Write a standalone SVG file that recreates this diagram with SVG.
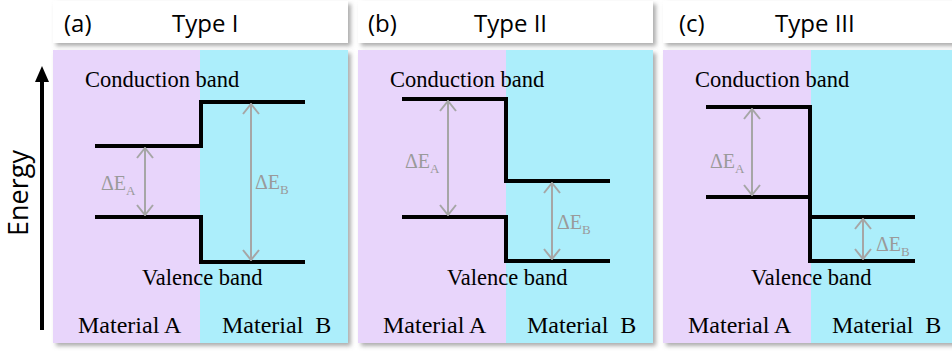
<svg xmlns="http://www.w3.org/2000/svg" width="952" height="352" viewBox="0 0 952 352">
  <style>
    .hdr { fill: #ffffff; }
    .matA { fill: #E8D5FB; }
    .matB { fill: #ACEEFB; }
    .title { font-family: "Open Sans", "Liberation Sans", sans-serif; font-size: 24px; fill: #000; }
    .lbl { font-family: "Liberation Serif", "Times New Roman", Tinos, "DejaVu Serif", serif; font-size: 22.5px; fill: #000; }
    .mat { font-family: "Liberation Serif", "Times New Roman", Tinos, "DejaVu Serif", serif; font-size: 24px; fill: #000; }
    .de { font-family: "Liberation Serif", "Times New Roman", Tinos, "DejaVu Serif", serif; font-size: 20px; fill: #9a9a9a; }
    .sub { font-size: 13px; }
    .band { fill: none; stroke: #000; stroke-width: 4; stroke-linejoin: miter; stroke-linecap: butt; }
    .gap { fill: none; stroke: #a6a6a6; stroke-width: 2; marker-start: url(#chev); marker-end: url(#chev); }
  </style>
  <defs>
    <filter id="sh" x="-5%" y="-5%" width="115%" height="120%">
      <feDropShadow dx="3" dy="3" stdDeviation="2" flood-color="#777" flood-opacity="0.6"/>
    </filter>
    <marker id="chev" viewBox="0 0 12 18" markerWidth="12" markerHeight="18" refX="11" refY="9" orient="auto-start-reverse" markerUnits="userSpaceOnUse">
      <path d="M1,1 L11,9 L1,17" fill="none" stroke="#a6a6a6" stroke-width="2"/>
    </marker>
    <marker id="blk" viewBox="0 0 16 14" markerWidth="16" markerHeight="14" refX="2" refY="7" orient="auto" markerUnits="userSpaceOnUse">
      <path d="M0,0 L16,7 L0,14 Z" fill="#000"/>
    </marker>
  </defs>

  <!-- Energy axis -->
  <g id="energy-axis">
    <line x1="42" y1="330" x2="42" y2="80" stroke="#000" stroke-width="4" marker-end="url(#blk)"/>
    <text class="title" text-anchor="middle" transform="translate(28,193) rotate(-90)" style="font-size:27px">Energy</text>
  </g>

  <!-- Panel (a) -->
  <g id="panel-a">
    <rect class="hdr" x="53" y="1" width="295" height="42" filter="url(#sh)"/>
    <text class="title" x="64" y="32">(a)</text>
    <text class="title" x="172" y="32">Type I</text>
    <g filter="url(#sh)">
      <rect class="matA" x="53" y="50" width="148" height="293"/>
      <rect class="matB" x="200" y="50" width="148" height="293"/>
    </g>
    <text class="lbl" x="85" y="87">Conduction band</text>
    <text class="lbl" x="142" y="285">Valence band</text>
    <text class="mat" x="78" y="333">Material A</text>
    <text class="mat" x="222" y="333" xml:space="preserve">Material  B</text>
    <text class="de" x="101" y="190">ΔE<tspan class="sub" dy="5">A</tspan></text>
    <text class="de" x="255" y="189">ΔE<tspan class="sub" dy="5">B</tspan></text>
  </g>

  <!-- Panel (b) -->
  <g id="panel-b">
    <rect class="hdr" x="358" y="1" width="295" height="42" filter="url(#sh)"/>
    <text class="title" x="368" y="32">(b)</text>
    <text class="title" x="474" y="32">Type II</text>
    <g filter="url(#sh)">
      <rect class="matA" x="358" y="50" width="149" height="293"/>
      <rect class="matB" x="506" y="50" width="147" height="293"/>
    </g>
    <text class="lbl" x="390" y="87">Conduction band</text>
    <text class="lbl" x="447" y="285">Valence band</text>
    <text class="mat" x="383" y="333">Material A</text>
    <text class="mat" x="527" y="333" xml:space="preserve">Material  B</text>
    <text class="de" x="405" y="168">ΔE<tspan class="sub" dy="5">A</tspan></text>
    <text class="de" x="557" y="229">ΔE<tspan class="sub" dy="5">B</tspan></text>
  </g>

  <!-- Panel (c) -->
  <g id="panel-c">
    <rect class="hdr" x="663" y="1" width="300" height="42" filter="url(#sh)"/>
    <text class="title" x="679" y="32">(c)</text>
    <text class="title" x="775" y="32">Type III</text>
    <g filter="url(#sh)">
      <rect class="matA" x="663" y="50" width="149" height="293"/>
      <rect class="matB" x="811" y="50" width="150" height="293"/>
    </g>
    <text class="lbl" x="695" y="87">Conduction band</text>
    <text class="lbl" x="751" y="285">Valence band</text>
    <text class="mat" x="688" y="333">Material A</text>
    <text class="mat" x="832" y="333" xml:space="preserve">Material  B</text>
    <text class="de" x="710" y="168">ΔE<tspan class="sub" dy="5">A</tspan></text>
    <text class="de" x="876" y="251">ΔE<tspan class="sub" dy="5">B</tspan></text>
  </g>

  <!-- Connectors: band edges and gap arrows -->
  <g id="connectors">
    <polyline class="band" points="95,146 201,146 201,102 305,102"/>
    <polyline class="band" points="95,217 201,217 201,262 305,262"/>
    <line class="gap" x1="145" y1="148" x2="145" y2="215"/>
    <line class="gap" x1="251" y1="104" x2="251" y2="260"/>

    <polyline class="band" points="402,99 506,99 506,181 610,181"/>
    <polyline class="band" points="402,217 506,217 506,261 610,261"/>
    <line class="gap" x1="448" y1="101" x2="448" y2="215"/>
    <line class="gap" x1="552" y1="183" x2="552" y2="259"/>

    <polyline class="band" points="706,107 810,107 810,261 915,261"/>
    <polyline class="band" points="706,197 810,197"/>
    <polyline class="band" points="810,217 915,217"/>
    <line class="gap" x1="752" y1="109" x2="752" y2="195"/>
    <line class="gap" x1="863" y1="219" x2="863" y2="259"/>
  </g>
</svg>
